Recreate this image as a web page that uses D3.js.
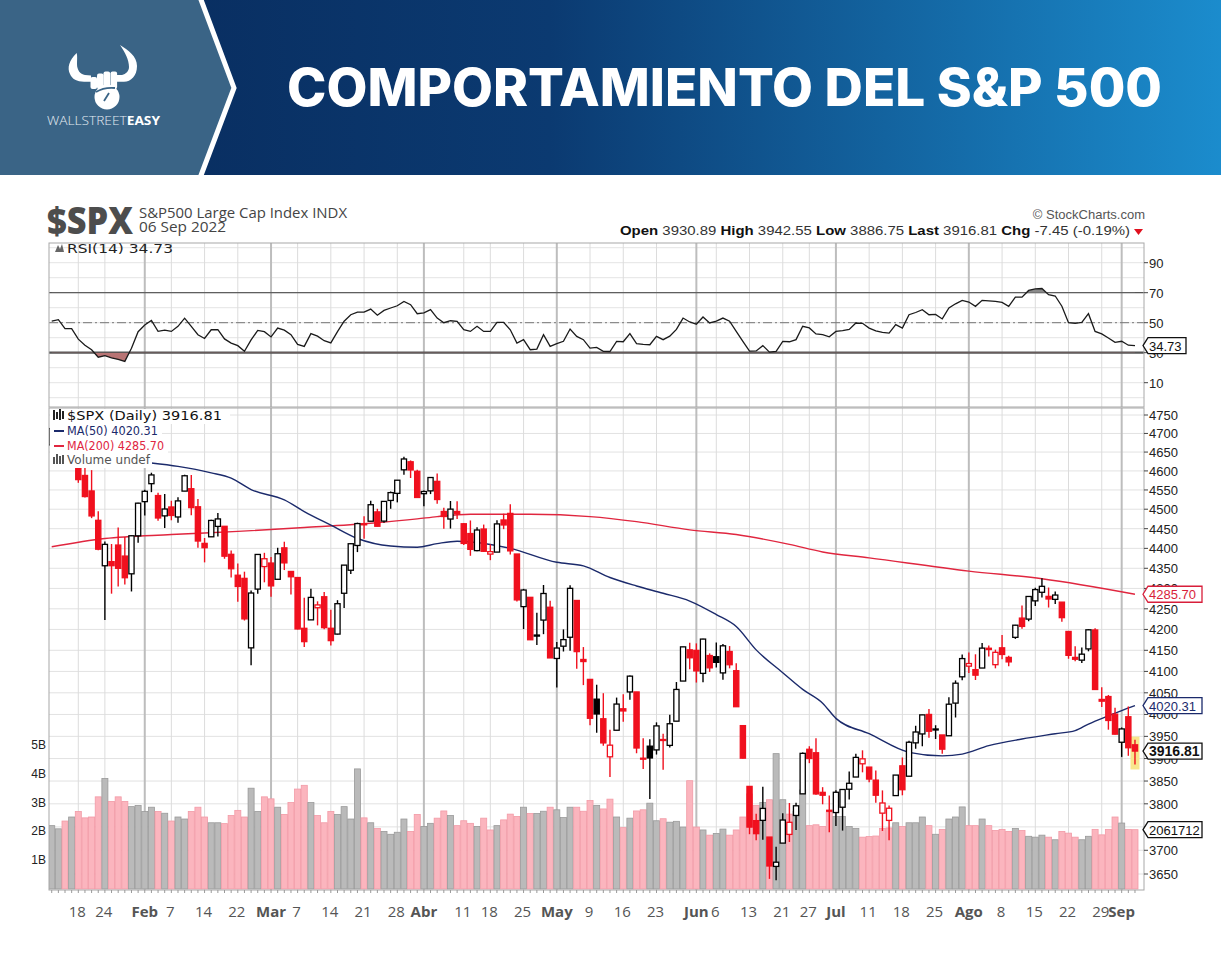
<!DOCTYPE html>
<html>
<head>
<meta charset="utf-8">
<script src="https://cdn.jsdelivr.net/npm/d3@7"></script>
<style>
  body { margin: 0; background: #fff; }
  svg { display: block; font-family: "Liberation Sans", Arial, sans-serif; }
</style>
</head>
<body>
<svg id="chart" width="1221" height="971"></svg>
<script>
// ---- data ----
const dates = [
  "2022-01-11","2022-01-12","2022-01-13","2022-01-14",
  "2022-01-18","2022-01-19","2022-01-20","2022-01-21",
  "2022-01-24","2022-01-25","2022-01-26","2022-01-27","2022-01-28",
  "2022-01-31","2022-02-01","2022-02-02","2022-02-03","2022-02-04",
  "2022-02-07","2022-02-08","2022-02-09","2022-02-10","2022-02-11",
  "2022-02-14","2022-02-15","2022-02-16","2022-02-17","2022-02-18",
  "2022-02-22","2022-02-23","2022-02-24","2022-02-25",
  "2022-02-28","2022-03-01","2022-03-02","2022-03-03","2022-03-04",
  "2022-03-07","2022-03-08","2022-03-09","2022-03-10","2022-03-11",
  "2022-03-14","2022-03-15","2022-03-16","2022-03-17","2022-03-18",
  "2022-03-21","2022-03-22","2022-03-23","2022-03-24","2022-03-25",
  "2022-03-28","2022-03-29","2022-03-30","2022-03-31","2022-04-01",
  "2022-04-04","2022-04-05","2022-04-06","2022-04-07","2022-04-08",
  "2022-04-11","2022-04-12","2022-04-13","2022-04-14",
  "2022-04-18","2022-04-19","2022-04-20","2022-04-21","2022-04-22",
  "2022-04-25","2022-04-26","2022-04-27","2022-04-28","2022-04-29",
  "2022-05-02","2022-05-03","2022-05-04","2022-05-05","2022-05-06",
  "2022-05-09","2022-05-10","2022-05-11","2022-05-12","2022-05-13",
  "2022-05-16","2022-05-17","2022-05-18","2022-05-19","2022-05-20",
  "2022-05-23","2022-05-24","2022-05-25","2022-05-26","2022-05-27",
  "2022-05-31","2022-06-01","2022-06-02","2022-06-03",
  "2022-06-06","2022-06-07","2022-06-08","2022-06-09","2022-06-10",
  "2022-06-13","2022-06-14","2022-06-15","2022-06-16","2022-06-17",
  "2022-06-21","2022-06-22","2022-06-23","2022-06-24",
  "2022-06-27","2022-06-28","2022-06-29","2022-06-30","2022-07-01",
  "2022-07-05","2022-07-06","2022-07-07","2022-07-08",
  "2022-07-11","2022-07-12","2022-07-13","2022-07-14","2022-07-15",
  "2022-07-18","2022-07-19","2022-07-20","2022-07-21","2022-07-22",
  "2022-07-25","2022-07-26","2022-07-27","2022-07-28","2022-07-29",
  "2022-08-01","2022-08-02","2022-08-03","2022-08-04","2022-08-05",
  "2022-08-08","2022-08-09","2022-08-10","2022-08-11","2022-08-12",
  "2022-08-15","2022-08-16","2022-08-17","2022-08-18","2022-08-19",
  "2022-08-22","2022-08-23","2022-08-24","2022-08-25","2022-08-26",
  "2022-08-29","2022-08-30","2022-08-31","2022-09-01","2022-09-02",
  "2022-09-06"
];

const opens = [
  4669.1, 4728.6, 4733.6, 4637.0,
  4632.2, 4588.0, 4547.4, 4471.4,
  4356.3, 4366.6, 4408.4, 4380.6, 4336.2,
  4431.8, 4519.6, 4566.4, 4535.4, 4482.8,
  4505.8, 4480.0, 4547.0, 4553.2, 4506.3,
  4412.6, 4429.3, 4455.8, 4456.1, 4385.0,
  4332.7, 4324.9, 4155.8, 4298.4,
  4354.2, 4363.1, 4322.6, 4401.3, 4342.1,
  4327.0, 4202.7, 4223.1, 4252.6, 4279.5,
  4202.8, 4188.8, 4288.1, 4345.1, 4407.3,
  4462.4, 4469.1, 4493.1, 4469.4, 4522.7,
  4541.1, 4602.9, 4624.2, 4599.0, 4540.3,
  4547.6, 4572.5, 4494.2, 4474.7, 4494.2,
  4462.6, 4437.6, 4394.3, 4449.1,
  4385.6, 4390.6, 4472.3, 4489.2, 4385.8,
  4255.3, 4278.1, 4186.5, 4222.6, 4253.8,
  4130.6, 4159.8, 4181.2, 4270.4, 4128.2,
  4081.3, 4035.2, 3990.1, 3903.9, 3963.9,
  4013.0, 4052.0, 4052.0, 3899.0, 3927.8,
  3919.4, 3942.9, 3929.6, 3984.6, 4077.4,
  4151.1, 4149.8, 4095.4, 4137.6,
  4134.7, 4096.5, 4147.1, 4101.7, 3974.4,
  3838.2, 3763.5, 3764.1, 3728.2, 3665.9,
  3715.3, 3733.9, 3774.7, 3821.8,
  3920.8, 3913.0, 3825.1, 3786.0, 3781.0,
  3792.6, 3832.0, 3858.9, 3888.3,
  3880.9, 3852.0, 3779.7, 3764.0, 3818.0,
  3883.8, 3860.7, 3935.3, 3955.5, 4000.0,
  3965.7, 3953.2, 3951.4, 4026.1, 4087.3,
  4112.4, 4104.2, 4108.0, 4154.9, 4115.9,
  4155.9, 4133.1, 4181.0, 4227.4, 4225.0,
  4269.4, 4290.5, 4280.4, 4273.1, 4266.3,
  4195.1, 4133.1, 4126.6, 4153.3, 4198.7,
  4034.6, 4041.3, 4000.7, 3936.7, 3994.7,
  3930.9
];

const highs = [
  4714.1, 4748.8, 4744.1, 4665.1,
  4632.2, 4611.6, 4602.1, 4494.5,
  4417.4, 4411.0, 4453.2, 4428.7, 4432.7,
  4516.9, 4550.5, 4595.3, 4542.9, 4539.7,
  4521.9, 4531.3, 4590.0, 4588.9, 4526.3,
  4426.2, 4472.8, 4490.0, 4456.1, 4394.4,
  4362.1, 4341.5, 4294.7, 4385.3,
  4388.8, 4378.5, 4401.5, 4416.8, 4342.1,
  4327.0, 4276.9, 4299.4, 4268.3, 4291.0,
  4247.6, 4271.1, 4358.0, 4412.7, 4465.4,
  4481.8, 4522.0, 4501.1, 4520.6, 4546.0,
  4575.7, 4637.3, 4627.8, 4603.1, 4548.7,
  4583.5, 4593.5, 4503.9, 4521.2, 4520.4,
  4464.4, 4471.0, 4453.9, 4460.5,
  4410.3, 4471.4, 4488.3, 4512.9, 4385.8,
  4299.0, 4278.1, 4240.7, 4308.5, 4269.7,
  4169.8, 4200.1, 4307.7, 4270.4, 4157.7,
  4081.3, 4068.8, 4049.1, 3964.8, 4038.9,
  4046.5, 4090.7, 4052.0, 3945.9, 3943.4,
  3981.9, 3955.7, 3999.3, 4075.1, 4158.5,
  4168.3, 4166.5, 4177.5, 4142.7,
  4168.8, 4164.9, 4160.1, 4119.1, 3974.4,
  3838.2, 3778.2, 3837.6, 3728.2, 3707.7,
  3779.7, 3801.8, 3802.6, 3913.7,
  3927.7, 3945.9, 3836.5, 3818.0, 3829.8,
  3832.2, 3870.9, 3910.6, 3918.5,
  3880.9, 3873.4, 3829.4, 3796.4, 3863.6,
  3902.4, 3939.8, 3974.1, 3999.3, 4012.4,
  3975.3, 3953.2, 4039.6, 4078.9, 4140.2,
  4145.0, 4140.5, 4167.7, 4161.3, 4151.6,
  4186.6, 4137.3, 4211.0, 4257.9, 4280.5,
  4301.8, 4325.3, 4302.2, 4292.5, 4266.3,
  4195.1, 4159.8, 4156.6, 4200.5, 4203.0,
  4063.0, 4045.0, 4015.4, 3970.2, 4018.4,
  3942.6
];

const lows = [
  4638.3, 4706.7, 4650.3, 4614.8,
  4568.7, 4530.2, 4477.0, 4395.3,
  4222.6, 4287.1, 4304.8, 4309.5, 4292.5,
  4414.0, 4484.0, 4544.3, 4470.4, 4451.5,
  4471.5, 4465.4, 4547.0, 4484.3, 4401.4,
  4364.8, 4429.3, 4430.0, 4373.8, 4327.2,
  4267.1, 4221.5, 4114.7, 4286.8,
  4315.1, 4279.5, 4322.6, 4345.6, 4284.9,
  4199.9, 4157.9, 4223.1, 4209.8, 4200.5,
  4161.7, 4187.9, 4251.9, 4335.7, 4390.6,
  4424.3, 4469.1, 4455.8, 4465.2, 4501.1,
  4517.7, 4589.7, 4581.3, 4530.4, 4507.6,
  4539.2, 4514.2, 4450.0, 4450.3, 4474.6,
  4408.4, 4381.3, 4392.7, 4390.8,
  4370.3, 4390.6, 4448.8, 4384.5, 4267.6,
  4200.8, 4175.0, 4162.9, 4188.6, 4131.9,
  4062.5, 4147.1, 4148.9, 4106.0, 4067.9,
  3975.5, 3958.2, 3928.8, 3858.9, 3963.9,
  3983.0, 4033.9, 3911.9, 3876.6, 3810.3,
  3909.0, 3875.1, 3925.0, 3984.6, 4077.4,
  4104.9, 4073.9, 4074.4, 4098.7,
  4109.2, 4080.2, 4107.2, 4017.2, 3900.2,
  3734.3, 3721.6, 3722.3, 3639.8, 3636.9,
  3715.3, 3717.7, 3743.5, 3821.8,
  3889.7, 3820.1, 3799.0, 3738.7, 3752.1,
  3742.1, 3809.4, 3858.9, 3869.3,
  3847.2, 3802.4, 3741.3, 3721.6, 3817.2,
  3818.6, 3860.7, 3922.0, 3927.6, 3947.1,
  3944.0, 3910.7, 3951.4, 3993.0, 4079.2,
  4096.0, 4079.8, 4108.0, 4135.4, 4107.3,
  4129.0, 4112.1, 4177.3, 4201.4, 4219.8,
  4256.9, 4277.8, 4253.1, 4262.0, 4218.7,
  4129.9, 4124.0, 4120.0, 4147.6, 4057.7,
  4017.4, 3965.2, 3954.5, 3903.7, 3906.2,
  3886.8
];

const closes = [
  4713.1, 4726.4, 4659.0, 4662.9,
  4577.1, 4532.8, 4482.7, 4397.9,
  4410.1, 4356.5, 4349.9, 4326.5, 4431.9,
  4515.6, 4546.5, 4589.4, 4477.4, 4500.5,
  4483.9, 4521.5, 4587.2, 4504.1, 4418.6,
  4401.7, 4471.1, 4475.0, 4380.3, 4348.9,
  4304.8, 4225.5, 4288.7, 4384.7,
  4373.9, 4306.3, 4386.5, 4363.5, 4328.9,
  4201.1, 4170.7, 4277.9, 4259.5, 4204.3,
  4173.1, 4262.5, 4357.9, 4411.7, 4463.1,
  4461.2, 4511.6, 4456.2, 4520.2, 4543.1,
  4575.5, 4631.6, 4602.5, 4530.4, 4545.9,
  4582.6, 4525.1, 4481.2, 4500.2, 4488.3,
  4412.5, 4397.5, 4446.6, 4392.6,
  4391.7, 4462.2, 4459.5, 4393.7, 4271.8,
  4296.1, 4175.2, 4184.0, 4287.5, 4131.9,
  4155.4, 4175.5, 4300.2, 4146.9, 4123.3,
  3991.2, 4001.1, 3935.2, 3930.1, 4023.9,
  4008.0, 4088.9, 3923.7, 3900.8, 3901.4,
  3973.8, 3941.5, 3978.7, 4057.8, 4158.2,
  4132.2, 4101.2, 4176.8, 4108.5,
  4121.4, 4160.7, 4115.8, 4017.8, 3900.9,
  3749.6, 3735.5, 3790.0, 3666.8, 3674.8,
  3764.8, 3759.9, 3795.7, 3911.7,
  3900.1, 3821.6, 3818.8, 3785.4, 3825.3,
  3831.4, 3845.1, 3902.6, 3899.4,
  3854.4, 3818.8, 3801.8, 3790.4, 3863.2,
  3830.9, 3936.7, 3959.9, 3999.0, 3961.6,
  3966.8, 3921.1, 4023.6, 4072.4, 4130.3,
  4118.6, 4091.2, 4155.2, 4151.9, 4145.2,
  4140.1, 4122.5, 4210.2, 4207.3, 4280.2,
  4297.1, 4305.2, 4274.0, 4283.7, 4228.5,
  4138.0, 4128.7, 4140.8, 4199.1, 4057.7,
  4030.6, 3986.2, 3955.0, 3966.9, 3924.3,
  3916.8
];
const prevClose = 4670.3; // close of the day before the first bar

// volume in billions
const volumes = [
  2.2, 2.09, 2.36, 2.5,
  2.69, 2.47, 2.5, 3.2,
  3.84, 3.04, 3.2, 3.04, 2.86,
  2.9, 2.69, 2.84, 2.69, 2.63,
  2.36, 2.5, 2.43, 2.69, 2.84,
  2.5, 2.3, 2.3, 2.27, 2.55,
  2.73, 2.5, 3.5, 2.69,
  3.2, 3.13, 2.84, 2.59, 3.0,
  3.47, 3.6, 3.0, 2.55, 2.3,
  2.69, 2.59, 2.86, 2.43, 4.17,
  2.47, 2.3, 2.1, 2.0, 1.9,
  1.97, 2.43, 2.0, 2.59, 2.17,
  2.28, 2.46, 2.71, 2.55, 2.2,
  2.37, 2.28, 2.17, 2.46,
  2.05, 2.2, 2.4, 2.6, 2.52,
  2.84, 2.62, 2.62, 2.7, 2.84,
  2.75, 2.48, 2.84, 2.84, 2.7,
  3.07, 2.9, 2.78, 3.12, 2.5,
  2.13, 2.46, 2.71, 2.75, 2.98,
  2.37, 2.44, 2.32, 2.35, 2.15,
  3.76, 2.15, 2.05, 1.87,
  1.93, 2.08, 1.87, 2.05, 2.5,
  3.3, 2.9, 3.0, 3.1, 4.7,
  3.1, 2.6, 2.7, 3.44,
  2.2, 2.23, 2.17, 2.67, 2.52,
  2.52, 2.17, 2.1, 1.8,
  1.82, 1.84, 2.1, 2.12, 2.3,
  2.17, 2.3, 2.3, 2.5, 2.2,
  1.9, 2.07, 2.43, 2.5, 2.85,
  2.2, 2.2, 2.43, 2.2, 2.03,
  2.07, 2.0, 2.1, 2.03, 1.83,
  1.8, 1.87, 1.8, 1.71, 2.0,
  1.94, 1.8, 1.71, 1.83, 2.07,
  1.88, 2.07, 2.5, 2.29, 2.07,
  2.06
];

const rsi = [
  51, 52, 46, 46,
  39, 35, 32, 27,
  28, 26.5, 25.5, 24.2, 33,
  44, 48.5, 51.5, 44.2, 45,
  44.2, 47.6, 53, 47.6, 42,
  39.5, 45.3, 45.4, 39.2, 36.4,
  34.7, 30.9, 38.5, 44.9,
  44, 40.5, 46.4, 45, 42,
  35.5, 34.2, 42.7, 41, 38,
  36.5, 44, 51, 55.3, 57,
  57, 59.1, 55, 58.2, 59.8,
  61.3, 64.2, 62, 56, 56.6,
  58.7, 53.1, 50, 51.3, 50.9,
  45.3, 44.2, 47.6, 44.2,
  44.2, 50.2, 50.2, 45.3, 36.4,
  38.7, 32, 32.4, 42, 34.2,
  36, 37.6, 45.8, 40.9, 38.7,
  33.1, 33.5, 30.9, 30.8, 37.6,
  37.3, 42.7, 36, 35.5, 35.3,
  40.9, 38.7, 41, 45.5, 53.1,
  50.5, 49, 53.8, 49.8,
  51, 53.1, 51, 44.2, 37.5,
  31, 31.2, 34.7, 30.4, 30.9,
  37.6, 37.3, 38.7, 47.6,
  46.5, 42.5, 42, 40.6, 44.2,
  44.7, 45.5, 49.8, 49.6,
  46.4, 44.5, 43.5, 43.1, 48.7,
  46.4, 55.3, 56.8, 58.7, 55.3,
  55.5, 52.5, 59.8, 62.6, 64.9,
  63.8, 60.9, 64.9, 64.6, 64.2,
  63.5, 60.9, 67.1, 67, 71.5,
  72.5, 72.8, 68.7, 67.8, 61,
  50, 49.5, 50.2, 56, 44.2,
  42.5, 39.8, 36.9, 37.6, 35,
  34.73
];

const ma50Dates = ["2022-02-02","2022-02-08","2022-02-15","2022-02-18","2022-02-24","2022-03-03","2022-03-08",
  "2022-03-14","2022-03-18","2022-03-25","2022-03-31","2022-04-05","2022-04-08","2022-04-21","2022-05-02",
  "2022-05-06","2022-05-12","2022-05-18","2022-05-24","2022-05-31","2022-06-06","2022-06-09","2022-06-14",
  "2022-06-21","2022-06-24","2022-06-29","2022-07-01","2022-07-11","2022-07-19","2022-07-26","2022-07-29",
  "2022-08-04","2022-08-11","2022-08-18","2022-08-23","2022-08-25","2022-08-30","2022-09-01","2022-09-06"];
const ma50Values = [4621, 4612, 4595, 4581, 4551, 4524, 4494,
  4459, 4425, 4406, 4403, 4412, 4418, 4400, 4365,
  4356, 4327, 4306, 4288, 4269, 4236, 4207, 4151,
  4097, 4058, 4026, 3991, 3956, 3914, 3906, 3910,
  3929, 3944, 3956, 3963, 3978, 3997, 4009, 4020.31];

const ma200Dates = ["2022-01-11","2022-01-24","2022-02-07","2022-02-22","2022-03-08","2022-03-22","2022-03-31",
  "2022-04-05","2022-04-12","2022-04-26","2022-05-09","2022-05-18","2022-05-31","2022-06-09","2022-06-22",
  "2022-06-29","2022-07-11","2022-08-01","2022-08-16","2022-09-06"];
const ma200Values = [4404, 4425, 4435, 4443, 4453, 4464, 4475,
  4481, 4487, 4487, 4481, 4468, 4447, 4435, 4410,
  4391, 4376, 4343, 4324, 4285.70];

const priceTicks = [3650, 3700, 3750, 3800, 3850, 3900, 3950, 4000, 4050, 4100, 4150, 4200,
  4250, 4300, 4350, 4400, 4450, 4500, 4550, 4600, 4650, 4700, 4750];
const hiddenPriceLabels = [3750]; // fully covered by the volume box in the original
const rsiTicks = [10, 30, 50, 70, 90];
const volumeTicks = [1, 2, 3, 4, 5];
const volumeTickLabels = ["1B", "2B", "3B", "4B", "5B"];

const weekTickDates = ["2022-01-18","2022-01-24","2022-02-07","2022-02-14","2022-02-22","2022-03-07","2022-03-14",
  "2022-03-21","2022-03-28","2022-04-11","2022-04-18","2022-04-25","2022-05-09","2022-05-16","2022-05-23",
  "2022-06-06","2022-06-13","2022-06-21","2022-06-27","2022-07-11","2022-07-18","2022-07-25","2022-08-08",
  "2022-08-15","2022-08-22","2022-08-29"];
const weekTickLabels = ["18","24","7","14","22","7","14","21","28","11","18","25","9","16","23",
  "6","13","21","27","11","18","25","8","15","22","29"];
const monthTickDates = ["2022-02-01","2022-03-01","2022-04-01","2022-05-02","2022-06-01","2022-07-01","2022-08-01","2022-09-01"];
const monthTickLabels = ["Feb","Mar","Abr","May","Jun","Jul","Ago","Sep"];

// ---- layout ----
const W = 1221, H = 971;
const plotL = 49, plotR = 1144;
const rsiTop = 243, rsiBot = 407;
const pxTop = 408, pxBot = 890;

const svg = d3.select("#chart");
const defs = svg.append("defs");

// ---- banner ----
const grad = defs.append("linearGradient").attr("id", "bannerGrad")
    .attr("x1", "0").attr("x2", "1").attr("y1", "0").attr("y2", "0");
grad.append("stop").attr("offset", "0%").attr("stop-color", "#08295a");
grad.append("stop").attr("offset", "45%").attr("stop-color", "#0b3a71");
grad.append("stop").attr("offset", "100%").attr("stop-color", "#1b8ccd");

svg.append("rect").attr("width", W).attr("height", 175).attr("fill", "url(#bannerGrad)");
svg.append("path").attr("d", "M0,0 H199 L232,88 L199,175 H0 Z").attr("fill", "#3a6486");
svg.append("path").attr("d", "M200,-3 L234,88 L200,178")
    .attr("fill", "none").attr("stroke", "#fff").attr("stroke-width", 5);

// logo: horns + fist
const logo = svg.append("g").attr("fill", "#fff");
logo.append("path").attr("d", "M76.7,53 C69,60 67,68 70,74 C72,79 77,81.7 84,81.7 L91,81.7 L91,75.5 L85,75 C80,74 77,70 77,64 C77,60 77.5,56 76.7,53 Z");
logo.append("path").attr("d", "M120,45 C128,50 137,56 137,66 C137,76 131,81.7 124,81.7 L117,81.7 L117,75 L122,75 C126,74 129,71 129,67 C129,60 125,52 120,45 Z");
[[90.5, 77], [97, 73.5], [103.5, 71.5], [110.5, 71.5]].forEach(([fx, fy]) => {
    logo.append("rect").attr("x", fx).attr("y", fy).attr("width", 6.6).attr("height", 89 - fy).attr("rx", 2);
});
logo.append("circle").attr("cx", 107).attr("cy", 97).attr("r", 12.5);
logo.append("path").attr("d", "M96,92 Q104,87 115,88 M109,93 L104,101")
    .attr("fill", "none").attr("stroke", "#3a6486").attr("stroke-width", 1.8);

const logoText = svg.append("text").attr("x", 47).attr("y", 125)
    .attr("font-family", "'Open Sans', sans-serif").attr("font-size", 13)
    .attr("textLength", 113).attr("lengthAdjust", "spacingAndGlyphs");
logoText.append("tspan").attr("fill", "#e3ebf2").attr("font-weight", 300).text("WALLSTREET");
logoText.append("tspan").attr("fill", "#fff").attr("font-weight", 700).text("EASY");

svg.append("text").attr("x", 287).attr("y", 106)
    .attr("textLength", 875).attr("lengthAdjust", "spacingAndGlyphs")
    .attr("font-family", "Inter, 'Open Sans', sans-serif").attr("font-weight", 800)
    .attr("font-size", 52).attr("fill", "#fff")
    .text("COMPORTAMIENTO DEL S&P 500");

// ---- chart header ----
svg.append("text").attr("x", 47).attr("y", 234)
    .attr("font-family", "'Open Sans', sans-serif").attr("font-weight", 800).attr("font-size", 37)
    .attr("textLength", 86).attr("lengthAdjust", "spacingAndGlyphs").attr("fill", "#4d4d4d").text("$SPX");
svg.append("text").attr("x", 139).attr("y", 218)
    .attr("font-family", "'Open Sans', sans-serif").attr("font-size", 14).attr("fill", "#444")
    .attr("textLength", 208).attr("lengthAdjust", "spacingAndGlyphs").text("S&P500 Large Cap Index INDX");
svg.append("text").attr("x", 139).attr("y", 232)
    .attr("font-family", "'Open Sans', sans-serif").attr("font-size", 14).attr("fill", "#444")
    .attr("textLength", 87).attr("lengthAdjust", "spacingAndGlyphs").text("06 Sep 2022");
svg.append("text").attr("x", 1145).attr("y", 219).attr("text-anchor", "end")
    .attr("font-size", 13).attr("fill", "#555").text("© StockCharts.com");

const ohlc = svg.append("text").attr("x", 620).attr("y", 235).attr("font-size", 13)
    .attr("textLength", 510).attr("lengthAdjust", "spacingAndGlyphs");
[["Open", "3930.89"], ["High", "3942.55"], ["Low", "3886.75"], ["Last", "3916.81"], ["Chg", "-7.45 (-0.19%)"]]
    .forEach(([k, v], i) => {
        ohlc.append("tspan").attr("font-weight", 700).attr("fill", "#111").text((i ? "  " : "") + k);
        ohlc.append("tspan").attr("fill", "#333").text(" " + v);
    });
svg.append("path").attr("d", "M1134,229 L1143,229 L1138.5,235 Z").attr("fill", "#e0101e");

// ---- scales ----
const x = d3.scaleBand().domain(dates).range([48.4, 1138.3]);
const xc = d => x(d) + x.bandwidth() / 2;
const yP = d3.scaleLog().domain([3650, 4750]).range([874, 415]);
const yV = d3.scaleLinear().domain([0, 5]).range([889, 745]);
const yR = d3.scaleLinear().domain([0, 100]).range([397.7, 247.7]);

const days = dates.map((d, i) => ({
    date: d, o: opens[i], h: highs[i], l: lows[i], c: closes[i], v: volumes[i],
    pc: i ? closes[i - 1] : prevClose
}));

defs.append("clipPath").attr("id", "clipRsi").append("rect")
    .attr("x", plotL).attr("y", rsiTop).attr("width", plotR - plotL).attr("height", rsiBot - rsiTop);
defs.append("clipPath").attr("id", "clipPrice").append("rect")
    .attr("x", plotL).attr("y", pxTop).attr("width", plotR - plotL).attr("height", pxBot - pxTop);
defs.append("clipPath").attr("id", "clipOver70").append("rect")
    .attr("x", plotL).attr("y", rsiTop).attr("width", plotR - plotL).attr("height", yR(70) - rsiTop);
defs.append("clipPath").attr("id", "clipUnder30").append("rect")
    .attr("x", plotL).attr("y", yR(30)).attr("width", plotR - plotL).attr("height", rsiBot - yR(30));

// vertical gridlines shared by both panels
function drawTimeGrid(g, top, bot) {
    g.selectAll(".wk").data(weekTickDates).enter().append("line")
        .attr("x1", d => xc(d)).attr("x2", d => xc(d)).attr("y1", top).attr("y2", bot)
        .attr("stroke", "#dcdcdc").attr("stroke-width", 1);
    g.selectAll(".mo").data(monthTickDates).enter().append("line")
        .attr("x1", d => xc(d)).attr("x2", d => xc(d)).attr("y1", top).attr("y2", bot)
        .attr("stroke", "#bdbdbd").attr("stroke-width", 2);
}

function valueBox(cy, right, label, color, bold) {
    const tip = plotR - 1;
    svg.append("path")
        .attr("d", `M${tip},${cy} L${tip + 5},${cy - 8} H${right} V${cy + 8} H${tip + 5} Z`)
        .attr("fill", "#fff").attr("stroke", color).attr("stroke-width", 1.3);
    svg.append("text").attr("x", tip + 6).attr("y", cy + 5)
        .attr("font-size", bold ? 14 : 13).attr("font-weight", bold ? 700 : 400)
        .attr("fill", color).text(label);
}

// ---- RSI panel ----
const rsiG = svg.append("g");
rsiG.append("g").selectAll("line").data(d3.range(0, 101, 10)).enter().append("line")
    .attr("x1", plotL).attr("x2", plotR).attr("y1", d => yR(d)).attr("y2", d => yR(d))
    .attr("stroke", "#e4e4e4");
drawTimeGrid(rsiG.append("g"), rsiTop, rsiBot);

rsiG.append("line").attr("x1", plotL).attr("x2", plotR).attr("y1", yR(70)).attr("y2", yR(70))
    .attr("stroke", "#555").attr("stroke-width", 1.2);
rsiG.append("line").attr("x1", plotL).attr("x2", plotR).attr("y1", yR(30)).attr("y2", yR(30))
    .attr("stroke", "#555").attr("stroke-width", 2.2);
rsiG.append("line").attr("x1", plotL).attr("x2", plotR).attr("y1", yR(50)).attr("y2", yR(50))
    .attr("stroke", "#777").attr("stroke-width", 1).attr("stroke-dasharray", "9,3,2,3");

const rsiPts = rsi.map((v, i) => ({ date: dates[i], v: v }));
rsiG.append("path").datum(rsiPts).attr("clip-path", "url(#clipOver70)")
    .attr("d", d3.area().x(d => xc(d.date)).y0(yR(70)).y1(d => yR(d.v)))
    .attr("fill", "#8a8a8a");
rsiG.append("path").datum(rsiPts).attr("clip-path", "url(#clipUnder30)")
    .attr("d", d3.area().x(d => xc(d.date)).y0(yR(30)).y1(d => yR(d.v)))
    .attr("fill", "#b87474");
rsiG.append("path").datum(rsiPts).attr("clip-path", "url(#clipRsi)")
    .attr("d", d3.line().x(d => xc(d.date)).y(d => yR(d.v)))
    .attr("fill", "none").attr("stroke", "#1a1a1a").attr("stroke-width", 1.3);

rsiG.append("rect").attr("x", plotL).attr("y", rsiTop).attr("width", plotR - plotL)
    .attr("height", rsiBot - rsiTop).attr("fill", "none").attr("stroke", "#a8a8a8");

rsiG.selectAll(".rt").data(rsiTicks).enter().append("text")
    .attr("x", plotR + 5).attr("y", d => yR(d) + 5).attr("font-size", 13).attr("fill", "#222")
    .text(d => d);
rsiG.selectAll(".rtk").data(rsiTicks).enter().append("line")
    .attr("x1", plotR).attr("x2", plotR + 4).attr("y1", d => yR(d)).attr("y2", d => yR(d))
    .attr("stroke", "#444");

svg.append("path").attr("d", "M55,252 L58,245 L60,249 L62,244 L64,252 Z").attr("fill", "#666");
svg.append("text").attr("x", 67).attr("y", 253).attr("font-family", "'DejaVu Sans', sans-serif")
    .attr("font-size", 12).attr("fill", "#222")
    .attr("textLength", 106).attr("lengthAdjust", "spacingAndGlyphs").text("RSI(14) 34.73");

// ---- price panel ----
const pG = svg.append("g");
pG.append("g").selectAll("line").data(priceTicks).enter().append("line")
    .attr("x1", plotL).attr("x2", plotR).attr("y1", d => yP(d)).attr("y2", d => yP(d))
    .attr("stroke", "#e2e2e2");
drawTimeGrid(pG.append("g"), pxTop, pxBot);

const inner = pG.append("g").attr("clip-path", "url(#clipPrice)");

// volume bars
inner.selectAll(".vol").data(days).enter().append("rect")
    .attr("x", d => x(d.date) + 0.3).attr("width", x.bandwidth() - 0.6)
    .attr("y", d => yV(d.v)).attr("height", d => yV(0) - yV(d.v))
    .attr("fill", d => d.c < d.pc ? "#fbb5be" : "#bababa")
    .attr("stroke", d => d.c < d.pc ? "#f29aa6" : "#9a9a9a").attr("stroke-width", 0.8);

// moving averages
const maLine = d3.line().x(d => xc(d[0])).y(d => yP(d[1])).curve(d3.curveMonotoneX);
inner.append("path").datum(d3.zip(ma200Dates, ma200Values)).attr("d", maLine)
    .attr("fill", "none").attr("stroke", "#e0263f").attr("stroke-width", 1.4);
inner.append("path").datum(d3.zip(ma50Dates, ma50Values)).attr("d", maLine)
    .attr("fill", "none").attr("stroke", "#1b2a6b").attr("stroke-width", 1.4);

// highlight on the last bar
const last = days[days.length - 1];
inner.append("rect").attr("x", xc(last.date) - 4.5).attr("width", 9)
    .attr("y", yP(last.h) - 3).attr("height", yP(last.l) - yP(last.h) + 8)
    .attr("fill", "#f8e68c");

// candles
const candleColor = d => d.c < d.pc ? "#f0101e" : "#000";
const candles = inner.selectAll(".candle").data(days).enter().append("g");
candles.append("line")
    .attr("x1", d => xc(d.date)).attr("x2", d => xc(d.date))
    .attr("y1", d => yP(d.h)).attr("y2", d => yP(d.l))
    .attr("stroke", candleColor).attr("stroke-width", 1.4);
candles.append("rect")
    .attr("x", d => xc(d.date) - 2.6).attr("width", 5.2)
    .attr("y", d => yP(Math.max(d.o, d.c)))
    .attr("height", d => Math.max(1, Math.abs(yP(d.o) - yP(d.c))))
    .attr("fill", d => d.c < d.o ? candleColor(d) : "#fff")
    .attr("stroke", candleColor).attr("stroke-width", 1.3);

// legend (white backing hides what lies under it)
const legend = [
    { text: "$SPX (Daily) 3916.81", color: "#111", y: 420, w: 180, tl: 155 },
    { text: "MA(50) 4020.31", color: "#1b2a6b", y: 435, w: 112, tl: 91 },
    { text: "MA(200) 4285.70", color: "#e0263f", y: 450, w: 118, tl: 97 },
    { text: "Volume undef", color: "#555", y: 464, w: 102, tl: 83 }
];
pG.selectAll(".lgbg").data(legend).enter().append("rect")
    .attr("x", plotL + 1).attr("y", d => d.y - 11).attr("width", d => d.w).attr("height", 15)
    .attr("fill", "#fff");
pG.selectAll(".lgt").data(legend).enter().append("text")
    .attr("x", 67).attr("y", d => d.y).attr("font-family", "'DejaVu Sans', sans-serif")
    .attr("font-size", 12.5).attr("fill", d => d.color)
    .attr("textLength", d => d.tl).attr("lengthAdjust", "spacingAndGlyphs").text(d => d.text);
pG.append("path").attr("d", "M54,420 V410 M57,419 V412 M60,420 V409 M63,419 V411")
    .attr("stroke", "#222").attr("stroke-width", 2);
pG.append("line").attr("x1", 54).attr("x2", 64).attr("y1", 431).attr("y2", 431)
    .attr("stroke", "#1b2a6b").attr("stroke-width", 2);
pG.append("line").attr("x1", 54).attr("x2", 64).attr("y1", 446).attr("y2", 446)
    .attr("stroke", "#e0263f").attr("stroke-width", 2);
pG.append("path").attr("d", "M54,464 V457 M57,464 V454 M60,464 V456 M63,464 V455")
    .attr("stroke", "#555").attr("stroke-width", 2);

// panel frame and day ticks
pG.append("rect").attr("x", plotL).attr("y", pxTop).attr("width", plotR - plotL)
    .attr("height", pxBot - pxTop).attr("fill", "none").attr("stroke", "#a8a8a8");
pG.selectAll(".dt").data(dates).enter().append("line")
    .attr("x1", d => xc(d)).attr("x2", d => xc(d)).attr("y1", pxBot).attr("y2", pxBot + 3)
    .attr("stroke", "#999");

// right price axis
pG.selectAll(".pt").data(priceTicks.filter(d => !hiddenPriceLabels.includes(d))).enter().append("text")
    .attr("x", plotR + 5).attr("y", d => yP(d) + 5).attr("font-size", 13).attr("fill", "#222")
    .text(d => d);
pG.selectAll(".ptk").data(priceTicks).enter().append("line")
    .attr("x1", plotR).attr("x2", plotR + 4).attr("y1", d => yP(d)).attr("y2", d => yP(d))
    .attr("stroke", "#444");

// left volume axis
pG.selectAll(".vt").data(volumeTicks).enter().append("text")
    .attr("x", plotL - 3).attr("y", d => yV(d) + 4).attr("text-anchor", "end")
    .attr("font-size", 12).attr("fill", "#222")
    .text((d, i) => volumeTickLabels[i]);

// x axis labels
svg.selectAll(".wl").data(weekTickDates).enter().append("text")
    .attr("x", d => xc(d) - 1).attr("y", 917).attr("text-anchor", "middle")
    .attr("font-family", "'Open Sans', sans-serif").attr("font-size", 15).attr("fill", "#555")
    .text((d, i) => weekTickLabels[i]);
svg.selectAll(".ml").data(monthTickDates).enter().append("text")
    .attr("x", d => xc(d)).attr("y", 917).attr("text-anchor", "middle")
    .attr("font-family", "'Open Sans', sans-serif").attr("font-size", 15).attr("font-weight", 700)
    .attr("fill", "#555")
    .text((d, i) => monthTickLabels[i]);

// value boxes at right edge
valueBox(yR(rsi[rsi.length - 1]), 1186, "34.73", "#111", false);
valueBox(yP(ma200Values[ma200Values.length - 1]), 1202, "4285.70", "#d81e3a", false);
valueBox(yP(ma50Values[ma50Values.length - 1]), 1202, "4020.31", "#1b2a6b", false);
valueBox(yP(last.c), 1202, "3916.81", "#111", true);
valueBox(yV(last.v), 1202, "2061712", "#111", false);
</script>
</body>
</html>
